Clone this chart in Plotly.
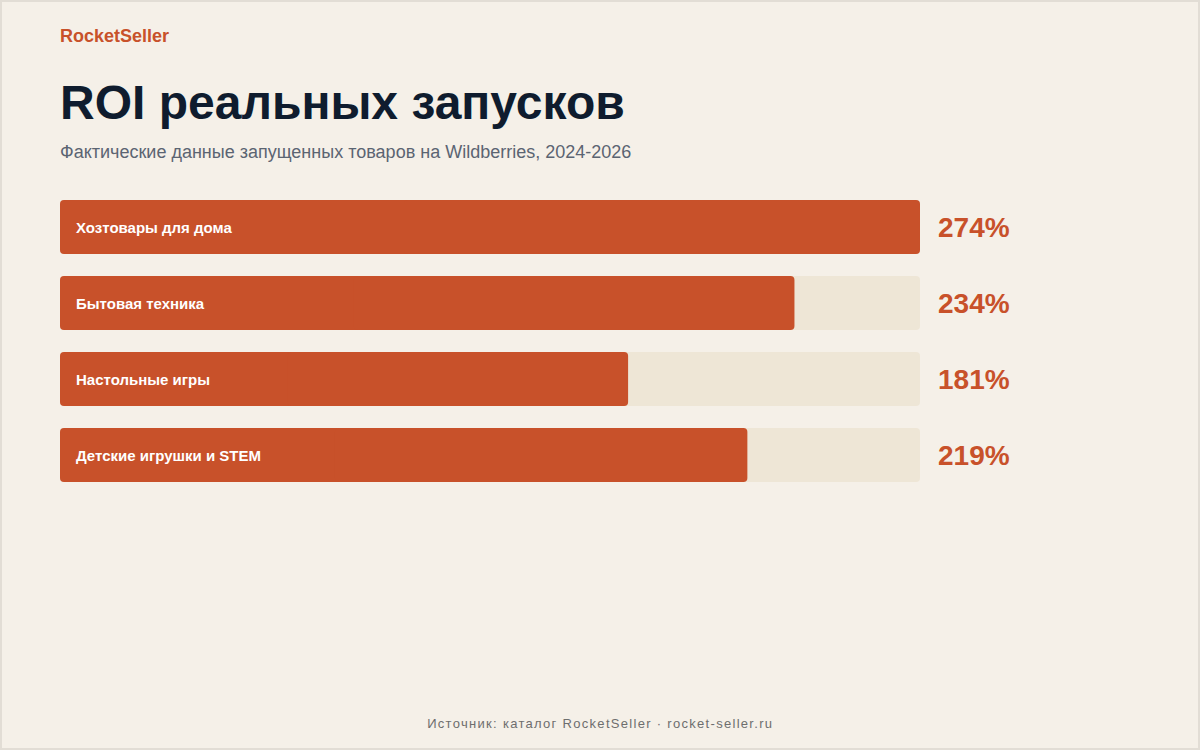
import plotly.graph_objects as go

categories = ["Хозтовары для дома", "Бытовая техника", "Настольные игры", "Детские игрушки и STEM"]
roi = [274, 234, 181, 219]
roi_labels = ["274%", "234%", "181%", "219%"]

BG = "#F5F0E8"
TRACK = "#EEE6D6"
ACCENT = "#C8512A"
FONT = "Liberation Sans, Arial, sans-serif"

W, H = 1200, 750
L, R, T, B = 60, 920, 189, 493  # plot area in pixels


def px(x):
    return (x - L) / (R - L)


def py(y):
    return (B - y) / (B - T)


idx = list(range(len(categories)))
vmax = max(roi)


def rounded_bar(values, color):
    # two overlapping halves so that both ends get rounded corners
    left = go.Bar(y=idx, base=[v * 0.6 for v in values], x=[-v * 0.6 for v in values],
                  orientation="h", marker=dict(color=color, line=dict(width=0)),
                  hoverinfo="skip", showlegend=False)
    right = go.Bar(y=idx, base=[v * 0.4 for v in values], x=[v * 0.6 for v in values],
                   orientation="h", marker=dict(color=color, line=dict(width=0)),
                   hoverinfo="skip", showlegend=False)
    return [left, right]


fig = go.Figure()
for tr in rounded_bar([vmax] * len(idx), TRACK) + rounded_bar(roi, ACCENT):
    fig.add_trace(tr)

annotations = []
for i, (cat, lab) in enumerate(zip(categories, roi_labels)):
    annotations.append(dict(
        x=0, y=i, xref="x", yref="y", text=cat, showarrow=False,
        xanchor="left", yanchor="middle", xshift=14,
        font=dict(family=FONT, size=15, color="white", weight="bold"),
    ))
    annotations.append(dict(
        x=vmax, y=i, xref="x", yref="y", text=lab, showarrow=False,
        xanchor="left", yanchor="middle", xshift=16,
        font=dict(family=FONT, size=28, color=ACCENT, weight="bold"),
    ))

annotations += [
    dict(x=px(58), y=py(36), xref="paper", yref="paper", text="RocketSeller",
         showarrow=False, xanchor="left", yanchor="middle",
         font=dict(family=FONT, size=18, color=ACCENT, weight="bold")),
    dict(x=px(58), y=py(103), xref="paper", yref="paper", text="ROI реальных запусков",
         showarrow=False, xanchor="left", yanchor="middle",
         font=dict(family=FONT, size=48, color="#0F1C2E", weight="bold")),
    dict(x=px(58), y=py(152), xref="paper", yref="paper",
         text="Фактические данные запущенных товаров на Wildberries, 2024-2026",
         showarrow=False, xanchor="left", yanchor="middle",
         font=dict(family=FONT, size=18, color="#5B6472")),
    dict(x=px(600), y=py(723), xref="paper", yref="paper",
         text="Источник: каталог RocketSeller · rocket-seller.ru",
         showarrow=False, xanchor="center", yanchor="middle",
         font=dict(family=FONT, size=13, color="#6E6E6E")),
]

fig.update_layout(
    width=W, height=H,
    margin=dict(l=L, r=W - R, t=T, b=H - B, pad=0),
    paper_bgcolor=BG, plot_bgcolor=BG,
    barmode="overlay", bargap=1 - 54 / 76, barcornerradius=4,
    xaxis=dict(visible=False, range=[0, vmax], fixedrange=True),
    yaxis=dict(visible=False, range=[len(idx) - 0.5, -0.5], fixedrange=True),
    annotations=annotations,
    shapes=[dict(type="rect", xref="paper", yref="paper",
                 x0=px(1), x1=px(W - 1), y0=py(1), y1=py(H - 1),
                 line=dict(color="#E2DDD5", width=2), layer="above")],
    hovermode=False,
)

# remove page margin and widen the footer's letter spacing
post = """
document.body.style.margin = '0';
document.querySelectorAll('text.annotation-text').forEach(function (t) {
  if (t.textContent.indexOf('Источник') === 0) { t.style.letterSpacing = '1.3px'; }
});
"""

fig.write_html("out.html", config={"displayModeBar": False}, post_script=post)
